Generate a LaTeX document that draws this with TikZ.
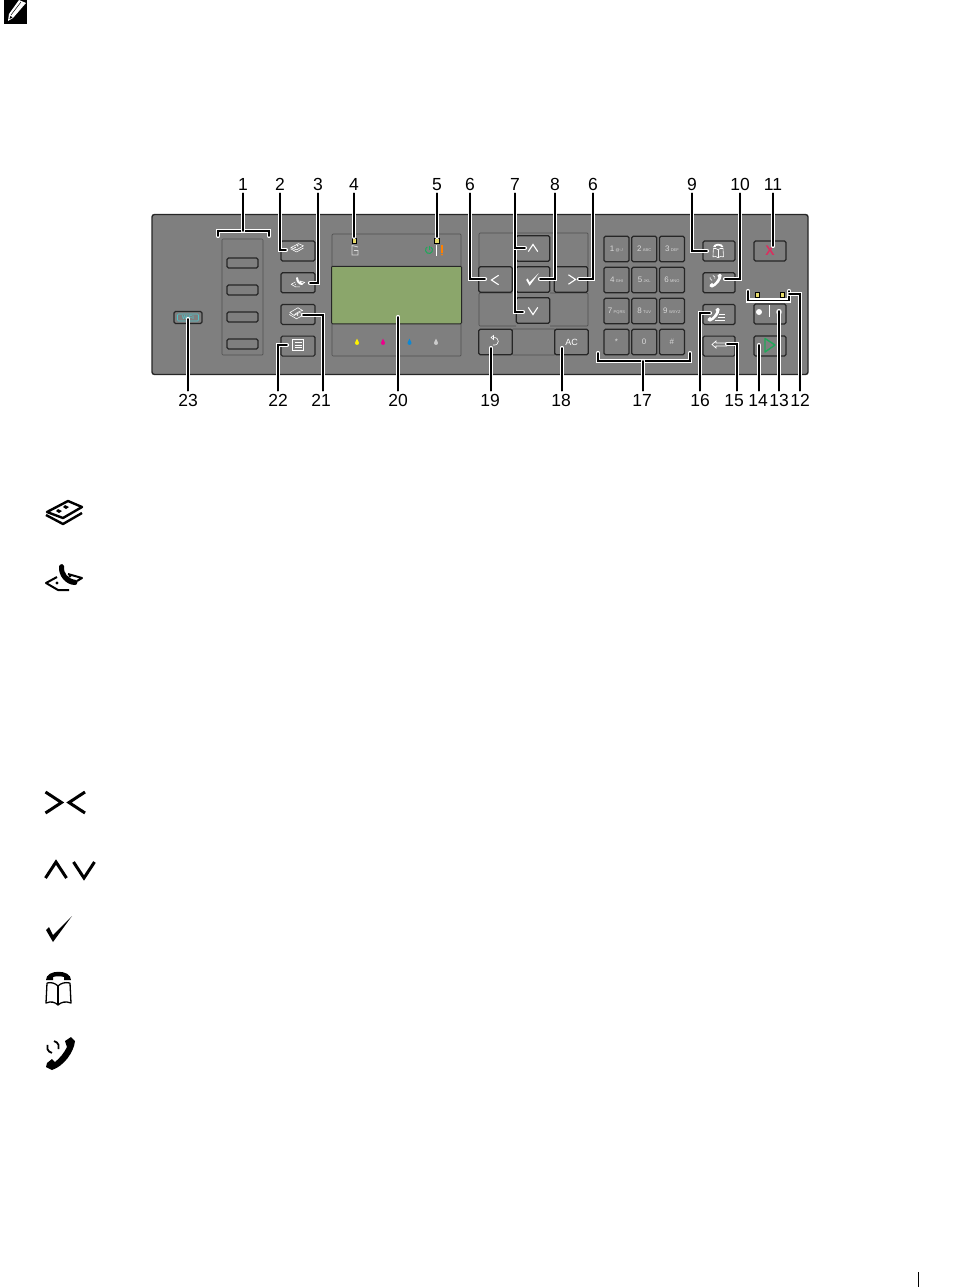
\documentclass[tikz,border=0pt]{standalone}
\usepackage{fontspec}
\setmainfont{Liberation Sans}
\usepackage{xcolor}
\usetikzlibrary{positioning}

\definecolor{panelgray}{HTML}{7F7F7F}
\definecolor{edgegray}{HTML}{262626}
\definecolor{lcdgreen}{HTML}{8BA66B}
\definecolor{ledyellow}{HTML}{E8DC6A}
\definecolor{wificyan}{HTML}{4FC3C9}
\definecolor{stopred}{HTML}{D9305F}
\definecolor{gogreen}{HTML}{1FA85A}

\newcommand{\handsetshape}{
    \fill (6,-11) -- (12,-15) -- (16,-11) .. controls (15,0) and (5,14) .. (-7,18) -- (-13,15) -- (-12,11) -- (-7,7) -- (-4,10) .. controls (1,6) and (5,1) .. (8,-5) -- cycle;
}

\tikzset{
    chevron/.pic={
        \draw [line cap=butt, miter limit=10] (-8,-10.5) -- (8,0) -- (-8,10.5);
    },
    tick/.pic={
        \fill (-12,1) -- (-9,-2) -- (-5,6) -- (14,-13) -- (-5,13) -- cycle;
    },
    handset/.pic={
        \handsetshape
    },
    copyicon/.pic={
        \draw [line join=round] (4,-12) -- (18,-6) -- (-1,5) -- (-17,-1) -- cycle;
        \draw [line join=round] (-18,2) -- (-1,11) -- (18,0);
        \fill (1,-8) -- (5,-6) -- (2,-4) -- (-1,-6) -- cycle;
        \fill (-6,-4) -- (-2,-2) -- (-5,0) -- (-8,-2) -- cycle;
    },
    faxicon/.pic={
        \fill (-5,-11) .. controls (-3,-14) and (0,-13) .. (0,-11) .. controls (-1,-4) and (4,2) .. (12,3) .. controls (14,3) and (14,8) .. (11,8) .. controls (2,8) and (-6,-1) .. (-5,-11) -- cycle;
        \draw [line join=round] (-7,0) -- (-18,6) -- (-6,13) -- (5,13);
        \draw [line join=round] (4,-3) -- (18,1) -- (13,4);
        \fill (-7,6) circle (1.6);
        \fill (6,-1) circle (1.6);
    },
    bookicon/.pic={
        \fill (-12,-9) .. controls (-12,-20) and (13,-20) .. (13,-9) -- (6,-9) -- (6,-12) .. controls (3,-13) and (-2,-13) .. (-5,-12) -- (-5,-9) -- cycle;
        \draw [line join=round] (-11,-6) -- (-12,14) .. controls (-7,12) and (-3,13) .. (0,16) .. controls (3,13) and (8,12) .. (13,14) -- (12,-6);
        \draw (-11,-6) .. controls (-7,-7) and (-3,-6) .. (0,-3) .. controls (3,-6) and (7,-7) .. (12,-6);
        \draw (0,-3) -- (0,16);
    },
    redialicon/.pic={
        \handsetshape
        \draw (-5,-10.9) arc (-80:20:6);
        \draw (-7,.9) arc (100:200:6);
    },
    scanicon/.pic={
        \draw [line join=round] (-15,-2) -- (2,-12) -- (12,-6) .. controls (6,-6) and (-4,0) .. (-6,4) -- cycle;
        \draw [line join=round] (-16,2) -- (-1,11) -- (16,2) -- (5,-2) -- (-6,4);
        \fill (1,3) circle (1.8);
    },
    menuicon/.pic={
        \draw (-5.5,-5.5) rectangle (5.5,5.5);
        \draw (-3.5,-2.5) -- (3.5,-2.5);
        \draw (-3.5,0) -- (3.5,0);
        \draw (-3.5,2.5) -- (3.5,2.5);
    },
    hookicon/.pic={
        \pic [scale=.42] at (-3,0) {handset};
        \draw (3,0) -- (9,0);
        \draw (2,3) -- (9,3);
        \draw (-1,6) -- (9,6);
    },
    droplet/.pic={
        \fill (0,-3.8) .. controls (.8,-1.5) and (2.3,-.2) .. (2.3,1.2) .. controls (2.3,3.8) and (-2.3,3.8) .. (-2.3,1.2) .. controls (-2.3,-.2) and (-.8,-1.5) .. (0,-3.8);
    }
}

\begin{document}
\begin{tikzpicture}[
    x=1pt,
    y=-1pt,
    panel/.style={
        draw=edgegray,
        fill=panelgray,
        rounded corners=2.5pt,
        line width=1.4pt
    },
    groove/.style={
        draw=edgegray!80,
        rounded corners=1pt,
        line width=.7pt
    },
    btn/.style={
        draw=edgegray,
        fill=panelgray,
        rounded corners=1.5pt,
        line width=1.2pt,
        minimum width=34pt,
        minimum height=20pt,
        inner sep=0pt,
        outer sep=0pt
    },
    softkey/.style={btn, minimum width=31pt, minimum height=10pt},
    navkey/.style={btn, minimum width=33.5pt, minimum height=25.5pt, font=\fontsize{9}{9}\selectfont, text=white},
    numkey/.style={btn, minimum width=25pt, minimum height=25.5pt, font=\fontsize{8}{8}\selectfont, text=white!85!black},
    lamp/.style={
        draw=black,
        fill=ledyellow,
        minimum size=4.5pt,
        inner sep=0pt,
        line width=.5pt
    },
    label/.style={
        font=\fontsize{17.5}{18}\selectfont,
        text height=12.6pt,
        text depth=0pt,
        inner sep=0pt,
        outer sep=3pt
    },
    leader/.style={
        draw=white,
        double=black,
        double distance=1.6pt,
        line width=1.3pt,
        line cap=round
    },
    glyph/.style={white, line width=.6pt},
    navglyph/.style={white, line width=1.1pt, scale=.45},
    bigglyph/.style={black, line width=2.4pt},
    bigmark/.style={black, line width=3pt}
]
\useasboundingbox (0,0) rectangle (960,1287);

% Note mark and page rule
\fill [black] (4,0) rectangle (27,24);
\fill [white] (19,0) -- (26,3) -- (13,18) -- (8,21) -- (9,14) -- cycle;
\draw [black, line width=.5pt] (11,15) -- (21,2);
\fill [black] (10.5,16) -- (12.5,17.5) -- (9.5,19) -- cycle;
\draw [line width=1pt] (918,1272) -- (918,1287);

% Panel
\draw [panel] (152,214.5) rectangle (808,374.5);
\draw [groove] (222,239) rectangle (263,355);
\draw [groove] (332,266) |- (461,234) -- (461,266);
\draw [groove] (332,324) |- (461,356) -- (461,324);
\draw [groove] (479,267) |- (588,233) -- (588,267);
\draw [groove] (550,293) -- (588,293) -- (588,326) -- (550,326);
\draw [groove] (512,293) -- (479,293) |- (516,326);
\draw [groove] (512,329) rectangle (555,355);

% Nodes
\node (softa) [softkey] at (242.5,263) {};
\node (softb) [softkey, below=17pt of softa] {};
\node (softc) [softkey, below=17pt of softb] {};
\node (softd) [softkey, below=17pt of softc] {};

\node (copybtn) [btn] at (298,251) {};
\node (faxbtn) [btn, below=11.7pt of copybtn] {};
\node (scanbtn) [btn, below=11.7pt of faxbtn] {};
\node (menubtn) [btn, below=11.7pt of scanbtn] {};
\node (wifibtn) [btn, minimum width=28pt, minimum height=12pt] at (188,317.5) {};
\node (wifitag) [draw=wificyan, text=wificyan, rounded corners=1pt, line width=.6pt, minimum width=21pt, minimum height=7pt, inner sep=0pt, font=\fontsize{5.5}{5.5}\selectfont\bfseries] at (188,317.5) {WiFi};

\node (lcd) [draw=edgegray, fill=lcdgreen, line width=1pt, rounded corners=1pt, minimum width=130pt, minimum height=57.5pt, inner sep=0pt] at (396.5,295) {};
\node (lamppanel) [lamp] at (354,240.5) {};
\node (lampstatus) [lamp] at (436.5,240.5) {};

\node (upkey) [navkey] at (533,248.5) {};
\node (okkey) [navkey] at (533,279.5) {};
\node (leftkey) [navkey, left=4pt of okkey] {};
\node (rightkey) [navkey, right=4.5pt of okkey] {};
\node (downkey) [navkey] at (533,310.5) {};
\node (backkey) [navkey] at (495.5,342) {};
\node (ackey) [navkey] at (571.5,342) {AC};

\node (keyone) [numkey] at (616.5,249) {1\,{\fontsize{4}{4}\selectfont @:./}};
\node (keytwo) [numkey, right=2.7pt of keyone] {2\,{\fontsize{4}{4}\selectfont ABC}};
\node (keythree) [numkey, right=2.7pt of keytwo] {3\,{\fontsize{4}{4}\selectfont DEF}};
\node (keyfour) [numkey, below=5.5pt of keyone] {4\,{\fontsize{4}{4}\selectfont GHI}};
\node (keyfive) [numkey, right=2.7pt of keyfour] {5\,{\fontsize{4}{4}\selectfont JKL}};
\node (keysix) [numkey, right=2.7pt of keyfive] {6\,{\fontsize{4}{4}\selectfont MNO}};
\node (keyseven) [numkey, below=5.5pt of keyfour] {7\,{\fontsize{4}{4}\selectfont PQRS}};
\node (keyeight) [numkey, right=2.7pt of keyseven] {8\,{\fontsize{4}{4}\selectfont TUV}};
\node (keynine) [numkey, right=2.7pt of keyeight] {9\,{\fontsize{4}{4}\selectfont WXYZ}};
\node (keystar) [numkey, below=5.5pt of keyseven] {*};
\node (keyzero) [numkey, right=2.7pt of keystar] {0};
\node (keyhash) [numkey, right=2.7pt of keyzero] {\#};

\node (bookbtn) [btn, minimum width=32pt] at (719,251) {};
\node (redialbtn) [btn, minimum width=32pt, below=11.7pt of bookbtn] {};
\node (hookbtn) [btn, minimum width=32pt, below=11.7pt of redialbtn] {};
\node (delbtn) [btn, minimum width=32pt, below=11.7pt of hookbtn] {};
\node (stopbtn) [btn, minimum width=32pt, text=stopred, font=\fontsize{14}{14}\selectfont\bfseries] at (770,251) {X};
\node (colorbtn) [btn, minimum width=32pt] at (770,314) {};
\node (startbtn) [btn, minimum width=32pt] at (770,346) {};
\node (lampblack) [lamp] at (757,294.5) {};
\node (lampcolor) [lamp] at (782,294.5) {};

% Glyphs on the keys
\pic [glyph, scale=.36] at (297,248) {copyicon};
\pic [glyph, scale=.38] at (298,282) {faxicon};
\pic [glyph, scale=.48] at (297,313.5) {scanicon};
\pic [glyph] at (298,345) {menuicon};
\pic [navglyph, rotate=180] at (495,280) {chevron};
\pic [navglyph] at (572,279.5) {chevron};
\pic [navglyph, rotate=90] at (533,248) {chevron};
\pic [navglyph, rotate=-90] at (533,311) {chevron};
\pic [glyph, scale=.48] at (532,279.5) {tick};
\draw [glyph] (491,337.5) -- (493.5,335.5) -- (493.5,339.5) -- cycle;
\draw [glyph] (493.5,337.5) .. controls (500,337) and (500,346) .. (493,345);
\pic [glyph, scale=.42] at (718,251) {bookicon};
\pic [glyph, scale=.42] at (715,280) {redialicon};
\pic [glyph] at (716,314) {hookicon};
\draw [white, line width=.7pt] (727,343) -- (716,343) -- (716,341) -- (712,344.5) -- (716,348) -- (716,346) -- (727,346);
\fill [white] (759,312) circle (3);
\draw [white, line width=1pt] (769,305) -- (769,317);
\fill [white!80!black] (779,312) circle (3);
\draw [gogreen, line width=1.4pt, line join=round] (765,338.5) -- (775,345) -- (765,352) -- cycle;

% Panel lamps and cartridges
\draw [white!85!black, line width=.8pt] (358,247) -- (352,245.5) -- (352,255) -- (358,255) -- (358,250.5) -- (354,250.5);
\draw [gogreen, line width=1pt] (430.75,246.97) arc (-60:240:3.5);
\draw [gogreen, line width=1pt] (429,245.5) -- (429,250);
\draw [white, line width=1pt] (436.5,244.5) -- (436.5,256);
\draw [orange, line width=1.6pt] (442,244.5) -- (442,252.5);
\fill [orange] (442,254.7) circle (1);
\pic [yellow, scale=.9] at (357,342) {droplet};
\pic [magenta, scale=.9] at (383,342) {droplet};
\pic [cyan!70!blue, scale=.9] at (409.5,342) {droplet};
\pic [white!80!black, scale=.9] at (436,342) {droplet};

% Labels
\node (labela) [label] at (243,184) {1};
\node (labelb) [label] at (280,184) {2};
\node (labelc) [label] at (318,184) {3};
\node (labeld) [label] at (354,184) {4};
\node (labele) [label] at (437,184) {5};
\node (labelf) [label] at (470,184) {6};
\node (labelg) [label] at (515,184) {7};
\node (labelh) [label] at (555,184) {8};
\node (labeli) [label] at (593,184) {6};
\node (labelj) [label] at (692,184) {9};
\node (labelk) [label] at (740,184) {10};
\node (labell) [label] at (773,184) {11};
\node (labelm) [label] at (800,400) {12};
\node (labeln) [label] at (779,400) {13};
\node (labelo) [label] at (758,400) {14};
\node (labelp) [label] at (734,400) {15};
\node (labelq) [label] at (700,400) {16};
\node (labelr) [label] at (642,400) {17};
\node (labels) [label] at (561,400) {18};
\node (labelt) [label] at (490,400) {19};
\node (labelu) [label] at (398,400) {20};
\node (labelv) [label] at (321,400) {21};
\node (labelw) [label] at (278,400) {22};
\node (labelx) [label] at (188,400) {23};

% Leader ends
\coordinate (softsleft) at (218,236);
\coordinate (softsright) at (269,236);
\coordinate (softsmid) at (243,231);
\coordinate (copyend) at (286,250);
\coordinate (faxend) at (310,283);
\coordinate (lampaend) at (354,237);
\coordinate (lampbend) at (437,237);
\coordinate (leftend) at (485,279);
\coordinate (upend) at (525,248);
\coordinate (downend) at (523,312);
\coordinate (okend) at (540,279);
\coordinate (rightend) at (579,279);
\coordinate (bookend) at (707,251);
\coordinate (redialend) at (725,279);
\coordinate (stopend) at (773,246);
\coordinate (lampsleft) at (748,291);
\coordinate (lampsright) at (789,291);
\coordinate (lampsbase) at (769,300.5);
\coordinate (lampsmid) at (789,294);
\coordinate (colorend) at (779,311);
\coordinate (startend) at (759,345);
\coordinate (delend) at (727,344);
\coordinate (hookend) at (710,313);
\coordinate (keysleft) at (598,353);
\coordinate (keysright) at (690,353);
\coordinate (keysmid) at (643,361);
\coordinate (acend) at (562,348);
\coordinate (backend) at (491,348);
\coordinate (lcdend) at (398,317);
\coordinate (scanend) at (303,315);
\coordinate (menuend) at (287,345);
\coordinate (wifiend) at (188,319);

% Paths
\draw [leader] (softsleft) |- (softsmid) -| (softsright);
\draw [leader] (labela.south) -- (softsmid);
\draw [leader] (labelb.south) |- (copyend);
\draw [leader] (labelc.south) |- (faxend);
\draw [leader] (labeld.south) -- (lampaend);
\draw [leader] (labele.south) -- (lampbend);
\draw [leader] (labelf.south) |- (leftend);
\draw [leader] (labelg.south) |- (downend);
\draw [leader] (upend) -| (labelg.south);
\draw [leader] (labelh.south) |- (okend);
\draw [leader] (labeli.south) |- (rightend);
\draw [leader] (labelj.south) |- (bookend);
\draw [leader] (labelk.south) |- (redialend);
\draw [leader] (labell.south) -- (stopend);
\draw [leader] (lampsleft) |- (lampsbase) -| (lampsright);
\draw [leader] (labelm.north) |- (lampsmid);
\draw [leader] (labeln.north) -- (colorend);
\draw [leader] ([xshift=1pt]labelo.north) -- (startend);
\draw [leader] ([xshift=3pt]labelp.north) |- (delend);
\draw [leader] (labelq.north) |- (hookend);
\draw [leader] (keysleft) |- (keysmid) -| (keysright);
\draw [leader] ([xshift=1pt]labelr.north) -- (keysmid);
\draw [leader] ([xshift=1pt]labels.north) -- (acend);
\draw [leader] ([xshift=1pt]labelt.north) -- (backend);
\draw [leader] (labelu.north) -- (lcdend);
\draw [leader] ([xshift=2pt]labelv.north) |- (scanend);
\draw [leader] (labelw.north) |- (menuend);
\draw [leader] (labelx.north) -- (wifiend);

% Key legend
\pic [bigglyph] at (64,513) {copyicon};
\pic [bigglyph, line width=2pt] at (64,577) {faxicon};
\pic [bigmark] at (53.5,802.5) {chevron};
\pic [bigmark, rotate=180] at (77,802.5) {chevron};
\pic [bigmark, rotate=90] at (56,870) {chevron};
\pic [bigmark, rotate=-90] at (84,870) {chevron};
\pic [bigglyph] at (58,929) {tick};
\pic [bigglyph, line width=1.3pt] at (58,989) {bookicon};
\pic [bigglyph, line width=1.8pt] at (59,1052) {redialicon};

\end{tikzpicture}
\end{document}
